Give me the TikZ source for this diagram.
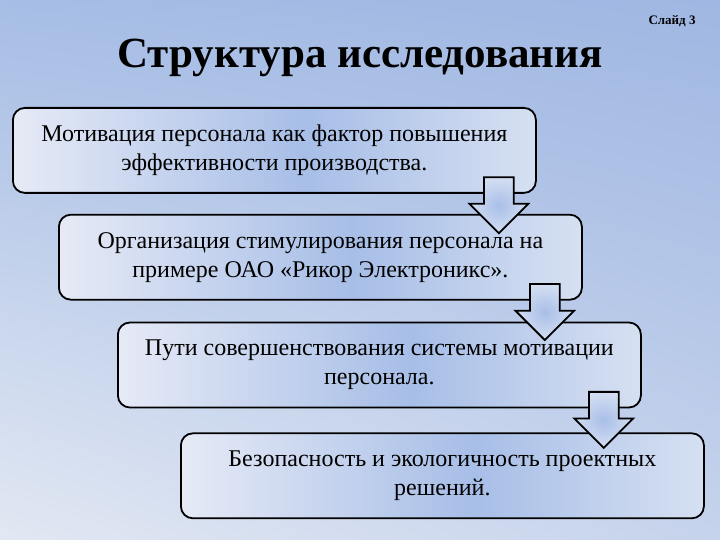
\documentclass[tikz,border=0pt]{standalone}
\usepackage{fontspec}
\setmainfont{Liberation Serif}
\usetikzlibrary{positioning, shapes.arrows, shadings}

\definecolor{bgtl}{HTML}{A6BDE5}
\definecolor{bgtr}{HTML}{9FB7E2}
\definecolor{bgbl}{HTML}{E2E8F3}
\definecolor{bgbr}{HTML}{C6D3EC}
\definecolor{boxedge}{HTML}{E6EAF6}
\definecolor{boxmid}{HTML}{A7BEE7}
\definecolor{boxright}{HTML}{D6E0F2}
\definecolor{arredge}{HTML}{D3DEF2}
\definecolor{arrmid}{HTML}{A9BFE8}

% box fill: light at the left, blue past the middle
\pgfdeclarehorizontalshading{boxfill}{100bp}{color(0bp)=(boxedge); color(25bp)=(boxedge);
    color(53bp)=(boxmid); color(75bp)=(boxright); color(100bp)=(boxright)}

\begin{document}
\begin{tikzpicture}[
    x=1pt, y=-1pt,
    box/.style={draw=black, line width=1.8pt, rounded corners=12pt,
                minimum width=523pt, minimum height=85pt, align=center,
                shade, shading=boxfill,
                font=\fontsize{24}{29}\selectfont},
    downarrow/.style={single arrow, draw=black, line width=1.8pt, rotate=-90,
                minimum height=56pt, minimum width=57pt, inner xsep=0pt, inner ysep=14pt,
                single arrow head extend=14.5pt, single arrow head indent=0pt,
                inner color=arrmid, outer color=arredge}
]
\shade[upper left=bgtl, upper right=bgtr, lower left=bgbl, lower right=bgbr]
    (0,0) rectangle (720,540);
\useasboundingbox (0,0) rectangle (720,540);

\node[font=\fontsize{43}{47}\selectfont\bfseries] (title) at (360,58) {Структура исследования};
\node[font=\fontsize{13}{15}\selectfont\bfseries] (slide) at (672,21) {Слайд 3};

\node[box, anchor=north west] (motiv) at (12,107)
    {Мотивация персонала как фактор повышения\\эффективности производства.};
\node[box, below right=20pt and 46pt of motiv.south west] (stim)
    {Организация стимулирования персонала на\\примере ОАО «Рикор Электроникс».};
\node[box, below right=21pt and 59pt of stim.south west] (paths)
    {Пути совершенствования системы мотивации\\персонала.};
\node[box, below right=24pt and 63pt of paths.south west] (safety)
    {Безопасность и экологичность проектных\\решений.};

\node[downarrow] (arr1) at ([xshift=-38pt, yshift=-4pt]motiv.south east) {};
\node[downarrow] (arr2) at ([xshift=-38pt, yshift=-4pt]stim.south east) {};
\node[downarrow] (arr3) at ([xshift=-38pt, yshift=-4pt]paths.south east) {};
\end{tikzpicture}
\end{document}
